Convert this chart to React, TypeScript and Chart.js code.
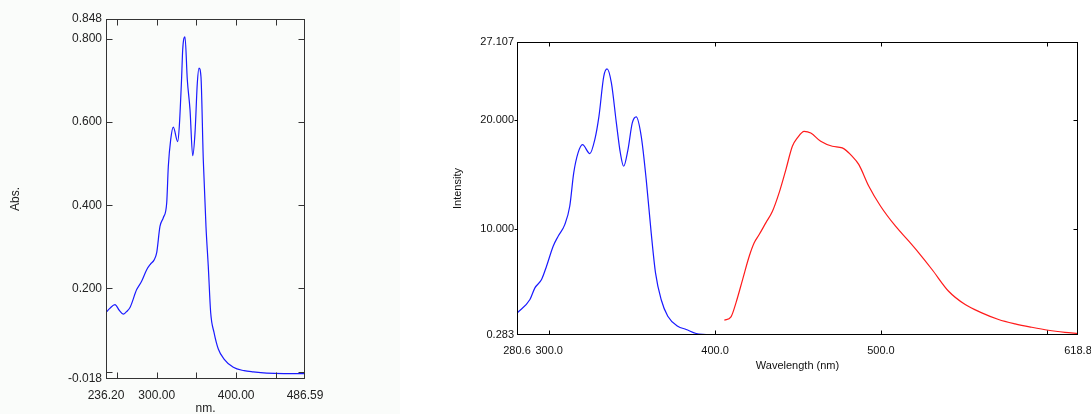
import React, { useEffect, useRef } from "react";
import { Chart, registerables } from "chart.js";

Chart.register(...registerables);

// ---- Absorbance spectrum (left) ----
const absWavelength = [236.2, 241, 247.5, 253, 258, 262, 266.4, 274.8, 281, 287.4, 292, 296.6, 300, 304.1, 308.3, 312.6, 314.6, 317.6, 320.9, 326.4, 328.4, 331.4, 332.7, 335.6, 338.5, 341.9, 345.3, 348.2, 351.1, 353.2, 355.7, 358.6, 362, 364.9, 367.9, 372.1, 377.5, 384.7, 396.4, 410, 421.5, 438.4, 460, 486.59];
const absValues = [0.142, 0.152, 0.161, 0.147, 0.138, 0.144, 0.154, 0.197, 0.217, 0.245, 0.258, 0.268, 0.286, 0.349, 0.370, 0.406, 0.493, 0.558, 0.588, 0.553, 0.589, 0.709, 0.774, 0.805, 0.702, 0.630, 0.519, 0.574, 0.694, 0.730, 0.709, 0.510, 0.349, 0.253, 0.142, 0.094, 0.054, 0.030, 0.010, 0.002, -0.001, -0.004, -0.005, -0.005];
const absXLabels = [236.2, 300, 400, 486.59];
const absYLabels = [-0.018, 0.2, 0.4, 0.6, 0.8, 0.848];
const absXTickMarks = [250, 300, 350, 400, 450];
const absYTickMarks = [0, 0.2, 0.4, 0.6, 0.8];

// ---- Fluorescence spectra (right) ----
const exWavelength = [280.8, 288.4, 291.4, 295.4, 298.4, 302.4, 305.4, 309.4, 312.4, 314.8, 317.4, 320.1, 324.5, 327.5, 330, 332.9, 334.9, 337.5, 340.5, 342.9, 344.9, 347.5, 350.1, 352.5, 355.5, 358.5, 361.5, 364.1, 367.5, 371.5, 377.5, 382.6, 388.6, 394.6];
const exValues = [2.31, 3.53, 4.6, 5.36, 6.58, 8.41, 9.32, 10.39, 12.07, 15.12, 16.95, 17.71, 16.89, 18.17, 20.3, 23.96, 24.64, 23.36, 19.7, 16.95, 15.73, 17.26, 19.7, 20.25, 18.47, 14.51, 9.63, 5.97, 3.53, 2.0, 1.09, 0.79, 0.42, 0.33];
const emWavelength = [405.6, 409.6, 412.6, 416.6, 420.6, 423.6, 426.6, 430.6, 434.6, 438.6, 442.7, 446.6, 449.6, 453.7, 457.7, 463.7, 470.7, 476.7, 482.7, 486.7, 492.7, 499.8, 508.8, 516.8, 522.8, 530.8, 540.8, 550.8, 560.8, 570.9, 580.9, 590.9, 600.9, 610.9, 618.8];
const emValues = [1.64, 1.95, 3.23, 5.36, 7.49, 8.72, 9.48, 10.55, 11.61, 13.29, 15.43, 17.56, 18.32, 18.93, 18.78, 18.01, 17.56, 17.41, 16.64, 15.88, 13.9, 12.07, 10.24, 8.87, 7.8, 6.28, 4.29, 3.07, 2.31, 1.7, 1.3, 0.99, 0.72, 0.53, 0.42];
const flXLabels = [280.6, 300, 400, 500, 618.8];
const flYLabels = [0.283, 10, 20, 27.107];
const flXTickMarks = [300, 400, 500, 600];
const flYTickMarks = [10, 20];

const FONT = "'Liberation Sans', Arial, sans-serif";

const framePlugin = {
  id: "frame",
  afterDraw(chart: any, _args: any, opts: any) {
    const { ctx, chartArea: a, scales } = chart;
    const xs = scales.x;
    const ys = scales.y;
    const L = Math.round(a.left) + 0.5;
    const R = Math.round(a.right) - 0.5;
    const T = Math.round(a.top) + 0.5;
    const B = Math.round(a.bottom) - 0.5;
    ctx.save();
    ctx.strokeStyle = opts.color;
    ctx.lineWidth = 1;
    ctx.strokeRect(L, T, R - L, B - T);
    ctx.beginPath();
    for (const v of opts.xTicks) {
      const px = Math.round(xs.getPixelForValue(v)) + 0.5;
      ctx.moveTo(px, T);
      ctx.lineTo(px, T + opts.inLen);
      ctx.moveTo(px, B);
      ctx.lineTo(px, B - opts.inLen);
    }
    for (const v of opts.yTicks) {
      const py = Math.round(ys.getPixelForValue(v)) + 0.5;
      if (opts.leftOut) {
        ctx.moveTo(L - opts.leftOut, py);
        ctx.lineTo(L, py);
      } else {
        ctx.moveTo(L, py);
        ctx.lineTo(L + opts.inLen, py);
      }
      ctx.moveTo(R, py);
      ctx.lineTo(R - opts.inLen, py);
    }
    ctx.stroke();
    ctx.restore();
  },
};

const toPoints = (xs: number[], ys: number[]) => xs.map((x, i) => ({ x, y: ys[i] }));

const noPadX = (h: number) => (s: any) => {
  s.height = h;
  s.paddingLeft = 0;
  s.paddingRight = 0;
};
const noPadY = (w: number) => (s: any) => {
  s.width = w;
  s.paddingTop = 0;
  s.paddingBottom = 0;
};

function makeLeft(canvas: HTMLCanvasElement) {
  return new Chart(canvas, {
    type: "line",
    data: {
      datasets: [
        {
          data: toPoints(absWavelength, absValues),
          borderColor: "#1a1aff",
          borderWidth: 1.2,
          pointRadius: 0,
          cubicInterpolationMode: "monotone",
        },
      ],
    },
    plugins: [framePlugin],
    options: {
      responsive: false,
      animation: false,
      events: [],
      layout: { padding: { left: 0, right: 95, top: 19, bottom: 0 } },
      plugins: {
        legend: { display: false },
        tooltip: { enabled: false },
        frame: { color: "#333", xTicks: absXTickMarks, yTicks: absYTickMarks, inLen: 6, leftOut: 0 },
      } as any,
      scales: {
        x: {
          type: "linear",
          min: 236.2,
          max: 486.59,
          afterBuildTicks: (s: any) => { s.ticks = absXLabels.map((v) => ({ value: v })); },
          afterFit: noPadX(35),
          grid: { display: false, drawTicks: false, tickLength: 0 },
          border: { display: false },
          ticks: {
            autoSkip: false,
            maxRotation: 0,
            padding: 9,
            color: "#222",
            font: { family: FONT, size: 12 },
            callback: (v: any) => Number(v).toFixed(2),
          },
          title: {
            display: true,
            text: "nm.",
            color: "#222",
            font: { family: FONT, size: 12, lineHeight: 1 },
            padding: { top: 0, bottom: -1 },
          },
        },
        y: {
          type: "linear",
          min: -0.018,
          max: 0.848,
          afterBuildTicks: (s: any) => { s.ticks = absYLabels.map((v) => ({ value: v })); },
          afterFit: noPadY(106),
          grid: { display: false, drawTicks: false, tickLength: 0 },
          border: { display: false },
          ticks: {
            autoSkip: false,
            padding: 4,
            color: "#222",
            font: { family: FONT, size: 12 },
            callback: (v: any) => Number(v).toFixed(3),
          },
          title: {
            display: true,
            text: "Abs.",
            color: "#222",
            font: { family: FONT, size: 12 },
            padding: { top: 8, bottom: 0 },
          },
        },
      },
    } as any,
  });
}

function makeRight(canvas: HTMLCanvasElement) {
  return new Chart(canvas, {
    type: "line",
    data: {
      datasets: [
        {
          data: toPoints(exWavelength, exValues),
          borderColor: "#1a1aff",
          borderWidth: 1.2,
          pointRadius: 0,
          cubicInterpolationMode: "monotone",
        },
        {
          data: toPoints(emWavelength, emValues),
          borderColor: "#ff1a1a",
          borderWidth: 1.2,
          pointRadius: 0,
          cubicInterpolationMode: "monotone",
        },
      ],
    },
    plugins: [framePlugin],
    options: {
      responsive: false,
      animation: false,
      events: [],
      layout: { padding: { left: 0, right: 13, top: 42, bottom: 0 } },
      plugins: {
        legend: { display: false },
        tooltip: { enabled: false },
        frame: { color: "#000", xTicks: flXTickMarks, yTicks: flYTickMarks, inLen: 4, leftOut: 3 },
      } as any,
      scales: {
        x: {
          type: "linear",
          min: 280.6,
          max: 618.8,
          afterBuildTicks: (s: any) => { s.ticks = flXLabels.map((v) => ({ value: v })); },
          afterFit: noPadX(79),
          grid: { display: false, drawTicks: false, tickLength: 0 },
          border: { display: false },
          ticks: {
            autoSkip: false,
            maxRotation: 0,
            padding: 9,
            color: "#111",
            font: { family: FONT, size: 11 },
            callback: (v: any) => Number(v).toFixed(1),
          },
          title: {
            display: true,
            text: "Wavelength (nm)",
            color: "#111",
            font: { family: FONT, size: 11 },
            padding: { top: 0, bottom: 41 },
          },
        },
        y: {
          type: "linear",
          min: 0.283,
          max: 27.107,
          afterBuildTicks: (s: any) => { s.ticks = flYLabels.map((v) => ({ value: v })); },
          afterFit: noPadY(117),
          grid: { display: false, drawTicks: false, tickLength: 0 },
          border: { display: false },
          ticks: {
            autoSkip: false,
            padding: 3,
            color: "#111",
            font: { family: FONT, size: 11 },
            callback: (v: any) => Number(v).toFixed(3),
          },
          title: {
            display: true,
            text: "Intensity",
            color: "#111",
            font: { family: FONT, size: 11 },
            padding: { top: 51, bottom: 0 },
          },
        },
      },
    } as any,
  });
}

export default function App() {
  const leftRef = useRef<HTMLCanvasElement>(null);
  const rightRef = useRef<HTMLCanvasElement>(null);

  useEffect(() => {
    const c1 = makeLeft(leftRef.current!);
    const c2 = makeRight(rightRef.current!);
    return () => {
      c1.destroy();
      c2.destroy();
    };
  }, []);

  return (
    <div style={{ position: "absolute", left: 0, top: 0, width: 1091, height: 414, background: "#fff", overflow: "hidden" }}>
      <canvas
        ref={leftRef}
        width={400}
        height={414}
        style={{ position: "absolute", left: 0, top: 0, width: 400, height: 414, background: "#fafcfa" }}
      />
      <canvas
        ref={rightRef}
        width={691}
        height={414}
        style={{ position: "absolute", left: 400, top: 0, width: 691, height: 414, background: "#fff" }}
      />
    </div>
  );
}
